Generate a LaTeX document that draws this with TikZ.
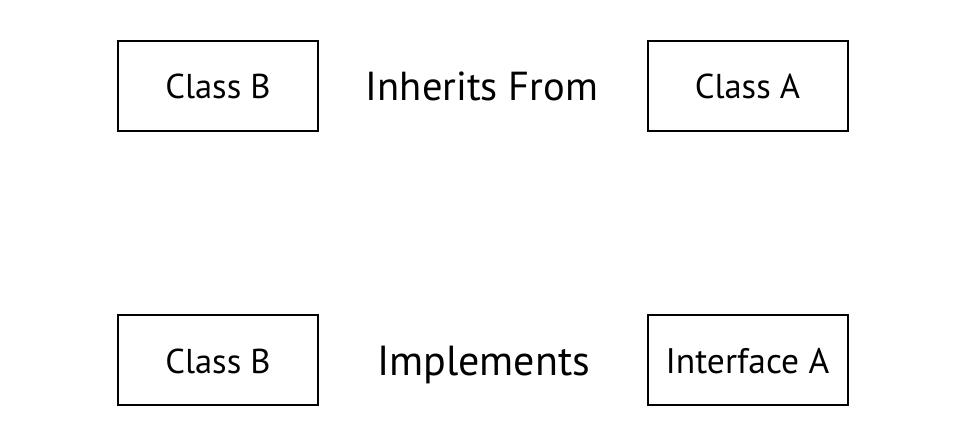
\documentclass[tikz,border=0pt]{standalone}
\usepackage{fontspec}
\setmainfont{PT Sans}
\begin{document}
\begin{tikzpicture}[x=1pt,y=-1pt,
  box/.style={draw=black,line width=2pt,minimum width=200pt,minimum height=90pt,inner sep=0pt,text height=26pt,text depth=0pt,font=\fontsize{34.5}{40}\selectfont},
  rel/.style={inner sep=0pt,anchor=base}]
\useasboundingbox (0,0) rectangle (970,436);
\fill[white] (0,0) rectangle (970,436);
\node[box] (b1) at (218,86) {Class B};
\node[box] (a1) at (747.5,86) {Class A};
\node[box] (b2) at (218,360) {Class B};
\node[box,font=\fontsize{35.5}{40}\selectfont] (a2) at (747.5,360) {Interface A};
\node[rel,font=\fontsize{40.5}{46}\selectfont] (inh) at (482,101) {Inherits From};
\node[rel,font=\fontsize{42}{48}\selectfont] (imp) at (483.5,375) {Implements};
\end{tikzpicture}
\end{document}
